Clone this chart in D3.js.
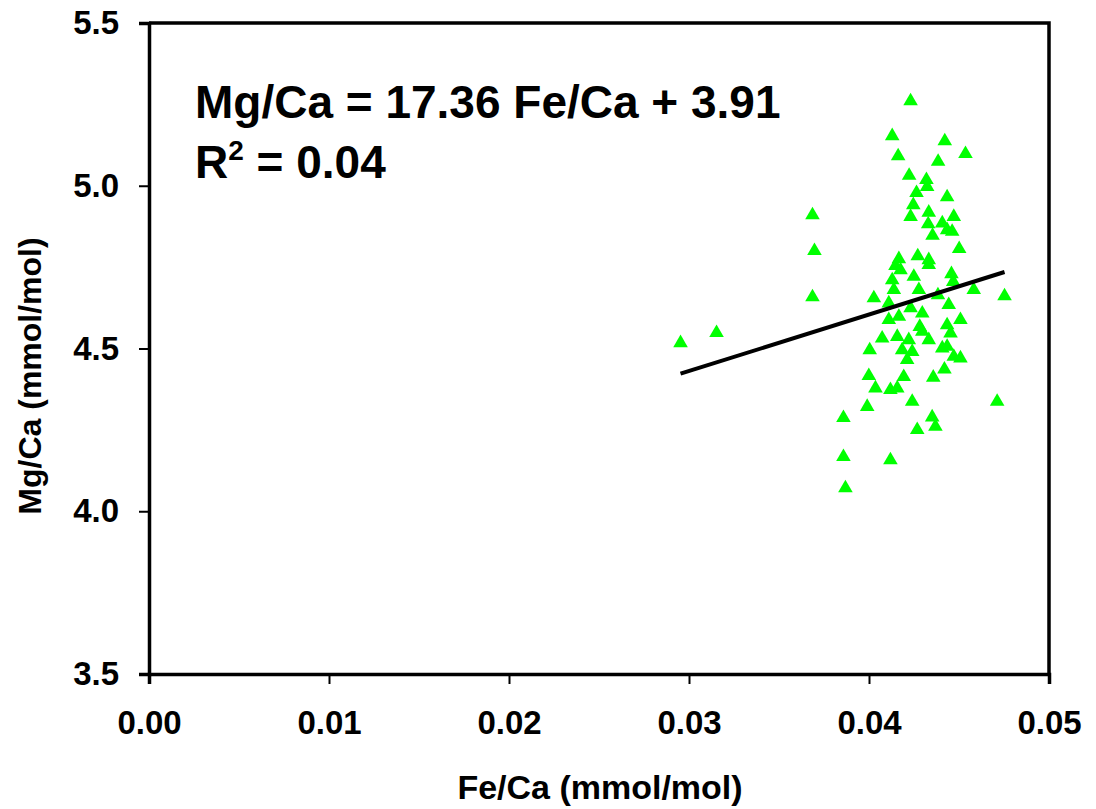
<!DOCTYPE html>
<html>
<head>
<meta charset="utf-8">
<script src="https://cdn.jsdelivr.net/npm/d3@7"></script>
<style>
  body { margin: 0; background: #fff; }
  text { font-family: "Liberation Sans", Arial, sans-serif; font-weight: bold; fill: #000; }
</style>
</head>
<body>
<div id="chart"></div>
<script>
// Fe/Ca vs Mg/Ca scatter with linear fit

// Fe/Ca (mmol/mol)
var feCa = [
  0.02953, 0.03153, 0.03686, 0.03697, 0.03686, 0.03858, 0.03858, 0.03869,
  0.04231, 0.04129, 0.04421, 0.04162, 0.04536, 0.04384, 0.04223, 0.04319,
  0.04323, 0.04264, 0.04434, 0.04246, 0.04231, 0.04332, 0.04329, 0.04407,
  0.04471, 0.04434, 0.04462, 0.04353, 0.04501, 0.04166, 0.04271, 0.04332,
  0.04332, 0.04147, 0.04175, 0.04129, 0.04249, 0.04458, 0.04468, 0.04138,
  0.04277, 0.04582, 0.04753, 0.04027, 0.04383, 0.04110, 0.04231, 0.04110,
  0.04166, 0.04296, 0.04443, 0.04508, 0.04434, 0.04282, 0.04296, 0.04073,
  0.04157, 0.04221, 0.04332, 0.04453, 0.04434, 0.04004, 0.04184, 0.04240,
  0.04407, 0.04471, 0.04508, 0.04212, 0.04419, 0.04357, 0.03999, 0.04193,
  0.04036, 0.04119, 0.04157, 0.03990, 0.04240, 0.04712, 0.04351, 0.04369,
  0.04268, 0.04119
];
// Mg/Ca (mmol/mol)
var mgCa = [
  4.517, 4.548, 4.910, 4.800, 4.658, 4.287, 4.167, 4.071,
  5.260, 5.153, 5.137, 5.091, 5.098, 5.074, 5.031, 5.018,
  4.997, 4.978, 4.965, 4.941, 4.905, 4.918, 4.882, 4.885,
  4.905, 4.864, 4.859, 4.847, 4.806, 4.775, 4.784, 4.772,
  4.757, 4.754, 4.741, 4.710, 4.721, 4.729, 4.705, 4.680,
  4.680, 4.680, 4.661, 4.655, 4.664, 4.639, 4.624, 4.588,
  4.598, 4.608, 4.634, 4.588, 4.572, 4.567, 4.552, 4.531,
  4.536, 4.526, 4.526, 4.547, 4.506, 4.495, 4.495, 4.490,
  4.501, 4.475, 4.470, 4.465, 4.436, 4.411, 4.416, 4.413,
  4.378, 4.373, 4.378, 4.321, 4.337, 4.337, 4.289, 4.260,
  4.250, 4.157
];

// fit from the chart label
var slope = 17.36;
var intercept = 3.91;
var rSquared = "0.04";

var xTicks = [0, 0.01, 0.02, 0.03, 0.04, 0.05];
var yTicks = [3.5, 4.0, 4.5, 5.0, 5.5];

var width = 1096, height = 809;
var margin = {top: 23, left: 149, right: 47, bottom: 135};
var plotW = width - margin.left - margin.right;
var plotH = height - margin.top - margin.bottom;

var svg = d3.select("#chart").append("svg")
  .attr("width", width)
  .attr("height", height);

var g = svg.append("g")
  .attr("transform", "translate(" + margin.left + "," + margin.top + ")");

var x = d3.scaleLinear().domain([0, 0.05]).range([0, plotW]);
var y = d3.scaleLinear().domain([3.5, 5.5]).range([plotH, 0]);

// frame (top and right)
g.append("path")
  .attr("d", "M0,0H" + plotW + "V" + plotH)
  .attr("fill", "none")
  .attr("stroke", "#000")
  .attr("stroke-width", 3.5);

// axes
var xAxis = g.append("g")
  .attr("transform", "translate(0," + plotH + ")")
  .call(d3.axisBottom(x).tickValues(xTicks).tickFormat(d3.format(".2f")).tickSize(10).tickPadding(27));
var yAxis = g.append("g")
  .call(d3.axisLeft(y).tickValues(yTicks).tickFormat(d3.format(".1f")).tickSize(10).tickPadding(20));

[xAxis, yAxis].forEach(function(a) {
  a.select(".domain").attr("stroke", "#000").attr("stroke-width", 3.5);
  a.selectAll(".tick line").attr("stroke", "#000").attr("stroke-width", 2);
  a.selectAll(".tick text")
    .style("font-family", '"Liberation Sans", Arial, sans-serif')
    .style("font-weight", "bold")
    .style("font-size", "33px")
    .attr("fill", "#000");
});

// points
var pts = feCa.map(function(d, i) { return [d, mgCa[i]]; });
g.selectAll("path.pt")
  .data(pts)
  .enter().append("path")
  .attr("class", "pt")
  .attr("d", d3.symbol().type(d3.symbolTriangle).size(92))
  .attr("transform", function(d) { return "translate(" + x(d[0]) + "," + y(d[1]) + ")"; })
  .attr("fill", "#00ff00");

// trend line across the data range
var ext = d3.extent(feCa);
g.append("line")
  .attr("x1", x(ext[0])).attr("y1", y(slope * ext[0] + intercept))
  .attr("x2", x(ext[1])).attr("y2", y(slope * ext[1] + intercept))
  .attr("stroke", "#000")
  .attr("stroke-width", 4);

// equation
g.append("text")
  .attr("x", 46).attr("y", 95)
  .style("font-size", "46px")
  .text("Mg/Ca = " + slope + " Fe/Ca + " + intercept);
var r2 = g.append("text")
  .attr("x", 46).attr("y", 155)
  .style("font-size", "46px");
r2.append("tspan").text("R");
r2.append("tspan").attr("dy", -18).style("font-size", "28px").text("2");
r2.append("tspan").attr("dy", 18).text(" = " + rSquared);

// axis titles
svg.append("text")
  .attr("x", 600).attr("y", 799)
  .attr("text-anchor", "middle")
  .style("font-size", "34px")
  .text("Fe/Ca (mmol/mol)");
svg.append("text")
  .attr("transform", "translate(41,376) rotate(-90)")
  .attr("text-anchor", "middle")
  .style("font-size", "32px")
  .text("Mg/Ca (mmol/mol)");
</script>
</body>
</html>
